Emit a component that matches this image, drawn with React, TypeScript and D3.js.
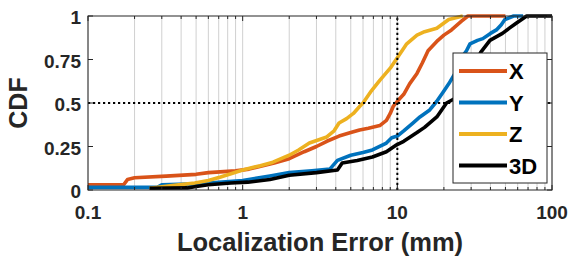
import * as d3 from "d3";
import React from "react";

// CDF points: [error (mm), cdf]
const xErr: [number, number][] = [
  [0.1, 0.03], [0.17, 0.03], [0.18, 0.06], [0.2, 0.07], [0.32, 0.08], [0.5, 0.09], [0.6, 0.1], [0.9, 0.11],
  [1.1, 0.12], [1.6, 0.155], [2.0, 0.18], [2.5, 0.22], [3.0, 0.25], [3.5, 0.28], [4.2, 0.31],
  [5.0, 0.33], [5.7, 0.345], [6.5, 0.355], [7.7, 0.37], [8.5, 0.4], [9.0, 0.44], [9.4, 0.48],
  [10, 0.51], [11, 0.55], [12, 0.61], [13.4, 0.67], [14.5, 0.73], [15.8, 0.8], [18.3, 0.86],
  [20, 0.89], [22.4, 0.92], [26, 0.97], [28.6, 1], [50, 1],
];
const yErr: [number, number][] = [
  [0.1, 0.015], [0.28, 0.015], [0.3, 0.03], [0.5, 0.035], [0.7, 0.045], [1.0, 0.055], [1.5, 0.08], [2.0, 0.1],
  [2.8, 0.11], [3.66, 0.12], [4.1, 0.17], [5.0, 0.2], [6.0, 0.215], [6.9, 0.23], [8.5, 0.27],
  [9.2, 0.3], [10, 0.31], [11, 0.34], [12.6, 0.385], [14, 0.42], [16.2, 0.46], [18, 0.51],
  [19.7, 0.56], [21.5, 0.61], [23.6, 0.67], [25, 0.72], [26, 0.76], [28, 0.8], [29.5, 0.84],
  [33, 0.86], [35.7, 0.87], [40, 0.9], [43.7, 0.92], [47, 0.95], [49.6, 0.98], [56.5, 1], [65, 1],
];
const zErr: [number, number][] = [
  [0.25, 0.01], [0.35, 0.025], [0.49, 0.04], [0.6, 0.055], [0.72, 0.075], [0.85, 0.095],
  [1.0, 0.115], [1.3, 0.14], [1.57, 0.16], [2.0, 0.2], [2.3, 0.23], [2.7, 0.27], [3.5, 0.305],
  [3.9, 0.34], [4.2, 0.385], [4.7, 0.41], [5.2, 0.44], [5.7, 0.48], [6.0, 0.5], [6.8, 0.57],
  [7.7, 0.63], [9.0, 0.7], [10, 0.76], [11.5, 0.84], [13.4, 0.89], [15, 0.91], [18, 0.93],
  [21.5, 0.98], [26.5, 1],
];
const err3d: [number, number][] = [
  [0.25, 0.01], [0.44, 0.012], [0.5, 0.02], [0.6, 0.03], [0.84, 0.04], [1.08, 0.045], [1.5, 0.06],
  [2.0, 0.085], [3.0, 0.1], [4.1, 0.115], [4.4, 0.155], [5.5, 0.17], [6.9, 0.19], [8.5, 0.22],
  [9.9, 0.26], [11, 0.28], [13.4, 0.33], [15, 0.36], [18, 0.42], [20.8, 0.5], [24, 0.53],
  [27, 0.57], [29.5, 0.61], [31, 0.68], [34.5, 0.79], [39.7, 0.86], [47.8, 0.9], [53, 0.93],
  [59, 0.96], [68.6, 1], [100, 1],
];

const seriesNames = ["X", "Y", "Z", "3D"];
const seriesData = [xErr, yErr, zErr, err3d];
const seriesColors = ["#D95319", "#0072BD", "#EDB120", "#000000"];

const xTicks = [0.1, 1, 10, 100];
const yTicks = [0, 0.25, 0.5, 0.75, 1];

const W = 570, H = 256;
const margin = { left: 88, right: 18, top: 16, bottom: 66 };
const font = "'Liberation Sans', Arial, sans-serif";
const axisColor = "#262626";

export default function App() {
  const x = d3.scaleLog().domain([0.1, 100]).range([margin.left, W - margin.right]);
  const y = d3.scaleLinear().domain([0, 1]).range([H - margin.bottom, margin.top]);
  const [x0, x1] = x.range();
  const [y0, y1] = y.range();

  const minor: number[] = [];
  [0.1, 1, 10].forEach(d => { for (let k = 1; k <= 9; k++) minor.push(d * k); });
  minor.push(100);

  const line = d3.line<[number, number]>()
    .x(d => x(d[0]))
    .y(d => y(d[1]));

  const leg = { x: 453, y: 53, w: 94, h: 130 };

  return (
    <svg width={W} height={H} style={{ position: "absolute", left: 0, top: 0, background: "#fff" }}>
      {/* grid */}
      {minor.map((d, i) => (
        <line key={"g" + i} x1={x(d)} x2={x(d)} y1={y1} y2={y0} stroke="#d0d0d0" strokeWidth={1} />
      ))}
      {/* curves */}
      {seriesData.map((s, i) => (
        <path key={"s" + i} d={line(s) || ""} fill="none" stroke={seriesColors[i]} strokeWidth={3.6} strokeLinejoin="round" />
      ))}
      {/* reference dotted lines */}
      <line x1={x0} x2={x1} y1={y(0.5)} y2={y(0.5)} stroke="#000" strokeWidth={2} strokeDasharray="2.2,2.8" />
      <line x1={x(10)} x2={x(10)} y1={y0} y2={y1} stroke="#000" strokeWidth={2} strokeDasharray="2.2,2.8" />
      {/* axes box */}
      <rect x={x0} y={y1} width={x1 - x0} height={y0 - y1} fill="none" stroke={axisColor} strokeWidth={1} />
      {minor.map((d, i) => {
        const major = xTicks.includes(d);
        const len = major ? 5 : 3;
        return (
          <g key={"t" + i}>
            <line x1={x(d)} x2={x(d)} y1={y0} y2={y0 - len} stroke={axisColor} />
            <line x1={x(d)} x2={x(d)} y1={y1} y2={y1 + len} stroke={axisColor} />
          </g>
        );
      })}
      {yTicks.map((d, i) => (
        <g key={"yt" + i}>
          <line x1={x0} x2={x0 + 5} y1={y(d)} y2={y(d)} stroke={axisColor} />
          <line x1={x1} x2={x1 - 5} y1={y(d)} y2={y(d)} stroke={axisColor} />
          <text x={x0 - 7} y={y(d) + 8} textAnchor="end" fontFamily={font} fontWeight="bold" fontSize={19} fill={axisColor}>
            {String(d)}
          </text>
        </g>
      ))}
      {xTicks.map((d, i) => (
        <text key={"xt" + i} x={x(d)} y={y0 + 29} textAnchor="middle" fontFamily={font} fontWeight="bold" fontSize={19} fill={axisColor}>
          {String(d)}
        </text>
      ))}
      <text x={320} y={251} textAnchor="middle" fontFamily={font} fontWeight="bold" fontSize={25.5} fill={axisColor}>
        Localization Error (mm)
      </text>
      <text transform={`translate(27,${(y0 + y1) / 2}) rotate(-90)`} textAnchor="middle" fontFamily={font} fontWeight="bold" fontSize={25} fill={axisColor}>
        CDF
      </text>
      {/* legend */}
      <rect x={leg.x} y={leg.y} width={leg.w} height={leg.h} fill="#fff" stroke={axisColor} strokeWidth={1} />
      {seriesNames.map((n, i) => {
        const cy = leg.y + 18 + i * 31.5;
        return (
          <g key={"l" + i}>
            <line x1={leg.x + 6} x2={leg.x + 54} y1={cy} y2={cy} stroke={seriesColors[i]} strokeWidth={4} />
            <text x={leg.x + 56} y={cy + 8} fontFamily={font} fontWeight="bold" fontSize={22} fill="#000">{n}</text>
          </g>
        );
      })}
    </svg>
  );
}
